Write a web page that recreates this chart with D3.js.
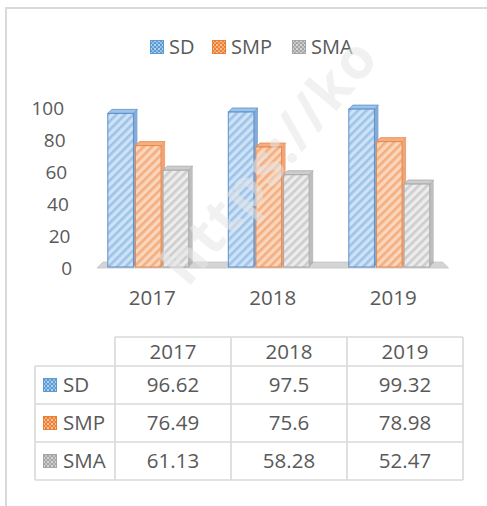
<!DOCTYPE html>
<html lang="en">
	<head>
		<meta charset="utf-8">
		<title>SD SMP SMA 3D column chart</title>
		<script type="text/javascript" src="https://d3js.org/d3.v7.min.js"></script>
		<style type="text/css">
			body { margin: 0; background: #fff; }
			text { font-family: "Open Sans", "Noto Sans", sans-serif; fill: #595959; }
		</style>
	</head>
	<body>
		<script type="text/javascript">

			// Data
			var years = ["2017", "2018", "2019"];
			var seriesNames = ["SD", "SMP", "SMA"];
			var sdValues = [96.62, 97.5, 99.32];
			var smpValues = [76.49, 75.6, 78.98];
			var smaValues = [61.13, 58.28, 52.47];
			var yTicks = [0, 20, 40, 60, 80, 100];
			var tableLabels = ["96.62", "97.5", "99.32", "76.49", "75.6", "78.98", "61.13", "58.28", "52.47"];

			var values = [sdValues, smpValues, smaValues];

			//Width and height
			var w = 487;
			var h = 506;

			// colours per series: [background, stripe, edge]
			var colors = [
				["#cfe2f5", "#9cc3ea", "#5b8fc9"],
				["#fad6bd", "#f4ae80", "#e9874a"],
				["#ececec", "#cdcdcd", "#a8a8a8"]
			];
			var keyColors = ["#5b9bd5", "#ed7d31", "#a5a5a5"];

			var svg = d3.select("body")
						.append("svg")
						.attr("width", w)
						.attr("height", h);

			var defs = svg.append("defs");
			colors.forEach(function(c, i) {
				var p = defs.append("pattern")
					.attr("id", "hatch" + i)
					.attr("patternUnits", "userSpaceOnUse")
					.attr("width", 6)
					.attr("height", 6)
					.attr("patternTransform", "rotate(45)");
				p.append("rect").attr("width", 6).attr("height", 6).attr("fill", c[0]);
				p.append("rect").attr("width", 2.6).attr("height", 6).attr("fill", c[1]);

				var k = defs.append("pattern")
					.attr("id", "key" + i)
					.attr("patternUnits", "userSpaceOnUse")
					.attr("width", 4)
					.attr("height", 4);
				k.append("rect").attr("width", 4).attr("height", 4).attr("fill", keyColors[i]);
				k.append("rect").attr("width", 2).attr("height", 2).attr("fill", "#fff").attr("opacity", 0.55);
				k.append("rect").attr("x", 2).attr("y", 2).attr("width", 2).attr("height", 2).attr("fill", "#fff").attr("opacity", 0.35);
			});

			// chart frame
			svg.append("path")
				.attr("d", "M6," + h + "V8H" + w)
				.attr("fill", "none")
				.attr("stroke", "#d9d9d9")
				.attr("stroke-width", 2);

			//Scales
			var xScale = d3.scaleBand()
				.domain(years)
				.range([90, 451.5]);

			var xInner = d3.scaleBand()
				.domain(seriesNames)
				.range([0, xScale.bandwidth()])
				.paddingOuter(0.68);

			var yScale = d3.scaleLinear()
				.domain([0, 100])
				.range([268, 108]);

			var depth = 4;

			// legend
			var legendX = [150, 212, 292];
			var legend = svg.selectAll("g.legend")
				.data(seriesNames)
				.enter()
				.append("g")
				.attr("class", "legend")
				.attr("transform", function(d, i) { return "translate(" + legendX[i] + ",40)"; });
			legend.append("rect")
				.attr("x", 0.5).attr("y", 0.5)
				.attr("width", 13).attr("height", 13)
				.attr("fill", function(d, i) { return "url(#key" + i + ")"; })
				.attr("stroke", function(d, i) { return keyColors[i]; });
			legend.append("text")
				.attr("x", 19)
				.attr("y", 13.5)
				.style("font-size", "20px")
				.text(function(d) { return d; });

			// y axis labels (shifted a bit with the 3D perspective)
			svg.selectAll("text.ytick")
				.data(yTicks)
				.enter()
				.append("text")
				.attr("class", "ytick")
				.attr("x", function(d) { return 72 - d * 0.08; })
				.attr("y", function(d) { return yScale(d); })
				.attr("dy", "0.36em")
				.attr("text-anchor", "end")
				.style("font-size", "19px")
				.text(function(d) { return d; });

			// floor
			var x0 = xScale.range()[0], x1 = xScale.range()[1];
			var y0 = yScale(0);
			svg.append("path")
				.attr("d", "M" + (x0 + 7) + "," + y0 + "L" + (x0 + 13) + "," + (y0 - 6) +
					"L" + (x1 - 9) + "," + (y0 - 6) + "L" + (x1 - 3) + "," + y0 + "Z")
				.attr("fill", "#d4d4d4")
				.attr("stroke", "#c4c4c4")
				.attr("stroke-width", 0.8);

			// bars
			var barW = xInner.bandwidth() - depth + 2;
			var groups = svg.selectAll("g.series")
				.data(values)
				.enter()
				.append("g")
				.attr("class", "series");

			groups.each(function(vals, si) {
				var g = d3.select(this);
				var bars = g.selectAll("g.bar")
					.data(vals)
					.enter()
					.append("g")
					.attr("class", "bar");
				bars.each(function(v, yi) {
					var b = d3.select(this);
					var bx = xScale(years[yi]) + xInner(seriesNames[si]) - 1;
					var by = yScale(v);
					var bb = y0 - 1;
					// side face
					b.append("path")
						.attr("d", "M" + (bx + barW) + "," + by + "L" + (bx + barW + depth) + "," + (by - depth) +
							"L" + (bx + barW + depth) + "," + (bb - depth) + "L" + (bx + barW) + "," + bb + "Z")
						.attr("fill", colors[si][2])
						.attr("opacity", 0.75);
					// top face
					b.append("path")
						.attr("d", "M" + bx + "," + by + "L" + (bx + depth) + "," + (by - depth) +
							"L" + (bx + barW + depth) + "," + (by - depth) + "L" + (bx + barW) + "," + by + "Z")
						.attr("fill", colors[si][1])
						.attr("stroke", colors[si][2])
						.attr("stroke-width", 0.8);
					// front face
					b.append("rect")
						.attr("x", bx)
						.attr("y", by)
						.attr("width", barW)
						.attr("height", bb - by)
						.attr("fill", "url(#hatch" + si + ")")
						.attr("stroke", colors[si][2])
						.attr("stroke-width", 1);
				});
			});

			// category labels
			svg.selectAll("text.xtick")
				.data(years)
				.enter()
				.append("text")
				.attr("class", "xtick")
				.attr("x", function(d) { return xScale(d) + xScale.bandwidth() / 2 + 2; })
				.attr("y", 298)
				.attr("dy", "0.36em")
				.attr("text-anchor", "middle")
				.style("font-size", "20.5px")
				.text(function(d) { return d; });

			// data table
			var colX = d3.scaleBand().domain(years).range([115, 463]);
			var rowY = d3.scaleBand().domain(seriesNames).range([366, 480]);
			var headTop = 337;
			var gridColor = "#d9d9d9";
			var table = svg.append("g").attr("class", "table");

			// horizontal lines
			table.append("line")
				.attr("x1", colX.range()[0]).attr("x2", colX.range()[1])
				.attr("y1", headTop).attr("y2", headTop);
			seriesNames.concat(["end"]).forEach(function(s, i) {
				var yy = i < seriesNames.length ? rowY(s) : rowY.range()[1];
				table.append("line")
					.attr("x1", 35).attr("x2", colX.range()[1])
					.attr("y1", yy).attr("y2", yy);
			});
			// vertical lines
			table.append("line")
				.attr("x1", 35).attr("x2", 35)
				.attr("y1", rowY.range()[0]).attr("y2", rowY.range()[1]);
			years.concat(["end"]).forEach(function(yv, i) {
				var xx = i < years.length ? colX(yv) : colX.range()[1];
				table.append("line")
					.attr("x1", xx).attr("x2", xx)
					.attr("y1", headTop).attr("y2", rowY.range()[1]);
			});
			table.selectAll("line")
				.attr("stroke", gridColor)
				.attr("stroke-width", 1.6);

			// header
			table.selectAll("text.head")
				.data(years)
				.enter()
				.append("text")
				.attr("class", "head")
				.attr("x", function(d) { return colX(d) + colX.bandwidth() / 2; })
				.attr("y", (headTop + rowY.range()[0]) / 2)
				.attr("dy", "0.36em")
				.attr("text-anchor", "middle")
				.style("font-size", "20.5px")
				.text(function(d) { return d; });

			// row headers
			var rowHead = table.selectAll("g.rowhead")
				.data(seriesNames)
				.enter()
				.append("g")
				.attr("class", "rowhead")
				.attr("transform", function(d) { return "translate(43," + (rowY(d) + rowY.bandwidth() / 2) + ")"; });
			rowHead.append("rect")
				.attr("x", 0.5).attr("y", -6.5)
				.attr("width", 13).attr("height", 13)
				.attr("fill", function(d, i) { return "url(#key" + i + ")"; })
				.attr("stroke", function(d, i) { return keyColors[i]; });
			rowHead.append("text")
				.attr("x", 20)
				.attr("dy", "0.36em")
				.style("font-size", "20.5px")
				.text(function(d) { return d; });

			// cells
			seriesNames.forEach(function(s, si) {
				table.selectAll("text.cell" + si)
					.data(years)
					.enter()
					.append("text")
					.attr("class", "cell" + si)
					.attr("x", function(d) { return colX(d) + colX.bandwidth() / 2; })
					.attr("y", rowY(s) + rowY.bandwidth() / 2)
					.attr("dy", "0.36em")
					.attr("text-anchor", "middle")
					.style("font-size", "20.5px")
					.text(function(d, yi) { return tableLabels[si * years.length + yi]; });
			});

			// faint watermark across the chart
			svg.append("text")
				.attr("transform", "translate(188,288) rotate(-50)")
				.style("font-size", "56px")
				.style("font-weight", "bold")
				.style("letter-spacing", "2px")
				.style("fill", "#e6e6e6")
				.attr("opacity", 0.55)
				.text("https://ko");

		</script>
	</body>
</html>
